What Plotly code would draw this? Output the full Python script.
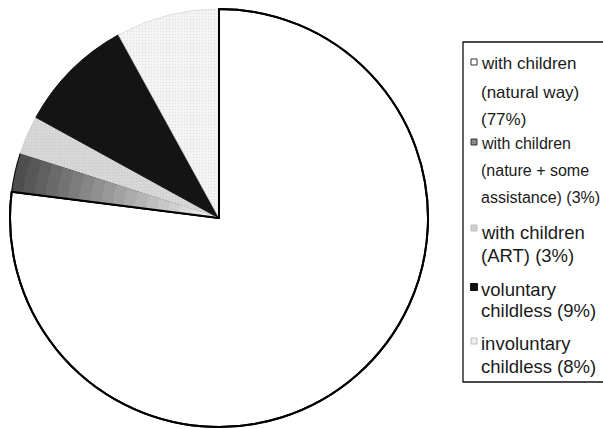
import plotly.graph_objects as go

# Groups (with manual line breaks for the legend) and their shares in percent
categories = [
    "with children<br>(natural way)",
    "with children<br>(nature + some<br>assistance)",
    "with children<br>(ART)",
    "voluntary<br>childless",
    "involuntary<br>childless",
]
shares = [77, 3, 3, 9, 8]
# how the percentage is attached to each legend label
pct_joiner = ["<br>", " ", " ", " ", " "]

# ---- slice styling -------------------------------------------------------
fill_colors = ["#ffffff", "#4e4e4e", "#d8d8d8", "#141414", "#f7f7f7"]
edge_colors = ["#000000", "#111111", "#b8b8b8", "#141414", "#cfcfcf"]
edge_widths = [2, 1.2, 0.5, 1, 0.6]
pattern_shapes = ["", "", ".", "", "."]
pattern_fg = ["#ffffff", "#4e4e4e", "#c4c4c4", "#141414", "#d2d2d2"]

W, H = 603, 429
CX, CY, R = 219, 218, 209          # pie centre / radius in pixels
GRAD_IDX = 1                        # slice shaded with a fading grey
GRAD_STEPS = 18


def pie_domain(r):
    yb = H - CY
    return dict(x=[(CX - r) / W, (CX + r) / W], y=[(yb - r) / H, (yb + r) / H])


fig = go.Figure()

# base pie with every slice
fig.add_trace(
    go.Pie(
        values=shares,
        labels=categories,
        sort=False,
        direction="clockwise",
        rotation=0,
        textinfo="none",
        hoverinfo="skip",
        showlegend=False,
        marker=dict(
            colors=fill_colors,
            line=dict(color=edge_colors, width=edge_widths),
            pattern=dict(shape=pattern_shapes, fgcolor=pattern_fg,
                         size=3, solidity=0.35, fillmode="overlay"),
        ),
        domain=pie_domain(R),
    )
)

# shading of the "nature + some assistance" slice: dark at the rim, fading to white
clear = "rgba(0,0,0,0)"
for k in range(1, GRAD_STEPS):
    frac = k / GRAD_STEPS
    g = int(0x4e + (0xf6 - 0x4e) * frac)
    cols = [clear] * len(shares)
    cols[GRAD_IDX] = f"rgb({g},{g},{g})"
    fig.add_trace(
        go.Pie(
            values=shares,
            labels=categories,
            sort=False,
            direction="clockwise",
            rotation=0,
            textinfo="none",
            hoverinfo="skip",
            showlegend=False,
            marker=dict(colors=cols, line=dict(width=0)),
            domain=pie_domain(R * (1 - frac * 0.97)),
        )
    )

# outline of the large white slice drawn on top again
fig.add_trace(
    go.Pie(
        values=shares,
        labels=categories,
        sort=False,
        direction="clockwise",
        rotation=0,
        textinfo="none",
        hoverinfo="skip",
        showlegend=False,
        marker=dict(colors=[clear] * len(shares),
                    line=dict(color=["#000000"] + [clear] * 4,
                              width=[2, 0, 0, 0, 0])),
        domain=pie_domain(R),
    )
)

# ---- legend box ----------------------------------------------------------
legend_lines_y = [[63, 92, 119], [144, 170, 197], [232, 255], [289, 310], [343, 366]]
legend_font_px = [17, 16, 18.5, 18.5, 18.5]
legend_text_x = 479
sym_x = 474
sym_y = [62, 142, 228, 287, 341]
sym_size = [6, 6, 6, 7, 6]
sym_fill = ["#ffffff", "#8a8a8a", "#cfcfcf", "#111111", "#eeeeee"]
sym_edge = ["#333333", "#333333", "#bdbdbd", "#111111", "#bdbdbd"]

fig.add_shape(type="rect", xref="paper", yref="paper",
              x0=463 / W, x1=1.05, y0=1 - 382 / H, y1=1 - 42 / H,
              line=dict(color="#111111", width=1.3), fillcolor="white",
              layer="below")

for i, (cat, v, j) in enumerate(zip(categories, shares, pct_joiner)):
    full = f"{cat}{j}({v}%)"
    for line, y in zip(full.split("<br>"), legend_lines_y[i]):
        fig.add_annotation(
            x=legend_text_x / W, y=1 - y / H, xref="paper", yref="paper",
            text=line, showarrow=False, xanchor="left", yanchor="middle",
            font=dict(size=legend_font_px[i], color="#1a1a1a"),
        )
    s = sym_size[i] / 2
    fig.add_shape(type="rect", xref="paper", yref="paper",
                  x0=(sym_x - s) / W, x1=(sym_x + s) / W,
                  y0=1 - (sym_y[i] + s) / H, y1=1 - (sym_y[i] - s) / H,
                  fillcolor=sym_fill[i], line=dict(color=sym_edge[i], width=1))

fig.update_layout(
    width=W,
    height=H,
    margin=dict(l=0, r=0, t=0, b=0, autoexpand=False),
    paper_bgcolor="white",
    plot_bgcolor="white",
    font=dict(family="Liberation Sans, Arial, sans-serif", size=17, color="#111111"),
    showlegend=False,
)

fig.write_html("out.html")
